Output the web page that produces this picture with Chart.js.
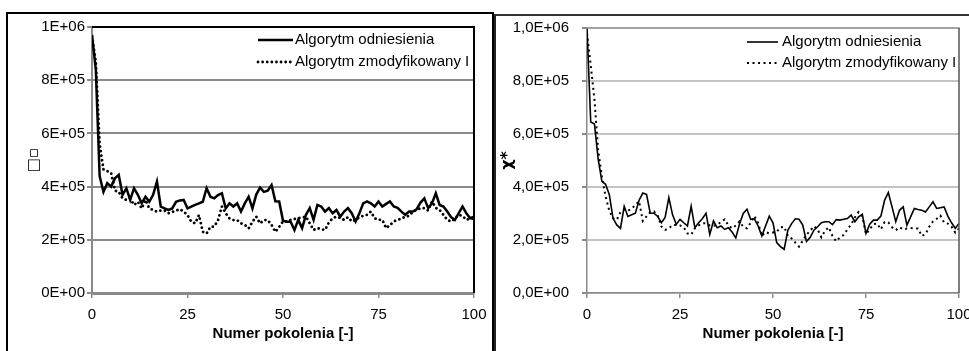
<!DOCTYPE html>
<html><head><meta charset="utf-8">
<script src="https://cdn.jsdelivr.net/npm/chart.js@4/dist/chart.umd.min.js"></script>
<style>
html,body{margin:0;padding:0;background:#fff}
body{width:969px;height:351px;overflow:hidden;position:relative}
#box1{position:absolute;left:6px;top:12px;width:488px;height:360px;border:2px solid #000;border-bottom:none;box-sizing:border-box}
#box2{position:absolute;left:494px;top:14px;width:490px;height:360px;border-left:2px solid #222;border-top:2px solid #333;box-sizing:border-box}
#c1{position:absolute;left:8px;top:14px}
#c2{position:absolute;left:496px;top:16px}
</style></head><body>
<div id="box1"></div><div id="box2"></div>
<canvas id="c1" width="483" height="337" style="width:483px;height:337px"></canvas>
<canvas id="c2" width="473" height="335" style="width:473px;height:335px"></canvas>
<script>
// categories: generation number 0..100
const generations = Array.from({length:101},(_,i)=>i);
const xTicks = [0,25,50,75,100];
const seriesNames = ['Algorytm odniesienia','Algorytm zmodyfikowany I'];
const xTitle = 'Numer pokolenia [-]';
const yTitleLeft = '\u25A1\u25AB';
const yTitleRight = '\u03C7*';

// values in thousands (x1000)
const leftReference = [
970,840,440,380,413,400,431,444,369,394,
350,394,369,337,362,343,369,419,325,318,
312,318,343,348,350,318,325,331,337,343,
394,362,356,368,375,318,337,325,337,306,
337,362,318,370,396,380,385,406,345,344,
272,268,268,237,275,244,294,319,275,331,
325,306,319,300,312,287,306,319,300,269,
300,337,344,337,325,344,325,335,344,325,
320,306,294,306,306,315,340,356,319,337,
375,331,325,306,285,275,300,325,300,281,
287];
const leftModified = [
965,870,560,465,458,452,385,380,356,350,
355,331,343,318,350,318,312,306,310,310,
300,305,310,315,306,293,268,262,293,230,
224,249,250,274,325,300,280,274,274,262,
256,243,268,287,262,274,274,256,230,249,
269,269,275,278,281,284,287,262,237,244,
240,237,265,281,287,282,275,285,269,275,
285,290,294,306,281,275,275,244,255,269,
275,280,287,290,306,312,319,319,310,344,
320,312,294,275,269,280,294,290,275,281,
278];
const rightReference = [
1000,645,638,505,421,410,371,282,257,244,
327,289,295,301,350,377,372,301,301,289,
265,285,360,295,259,278,265,253,327,246,
265,280,301,221,272,246,253,240,246,230,
208,260,300,316,278,280,253,215,253,290,
265,190,175,165,237,262,280,278,256,194,
210,237,250,265,269,269,258,277,275,278,
281,294,269,287,297,225,260,275,275,290,
350,379,325,269,312,325,256,287,319,315,
312,306,325,344,319,322,325,290,265,244,
262];
const rightModified = [
980,860,730,540,440,365,310,282,276,305,
315,310,318,332,346,272,289,305,308,292,
251,238,244,257,257,255,248,225,220,245,
255,263,263,255,254,257,268,278,255,244,
255,270,250,244,265,290,265,215,230,225,
228,231,248,250,215,206,190,175,198,220,
235,252,240,210,235,248,215,195,210,219,
240,258,285,305,290,222,240,260,262,240,
268,266,248,237,248,240,243,245,244,243,
215,222,250,270,280,292,265,262,250,228,
244];

const toPts = arr => generations.map((g,i)=>({x:g, y:arr[i]*1000}));

function sci(v, comma){
  if (v === 0) return comma ? '0,0E+00' : '0E+00';
  const e = Math.floor(Math.log10(v) + 1e-9);
  const m = v/Math.pow(10,e);
  const ms = comma ? m.toFixed(1).replace('.',',') : String(Math.round(m));
  return ms + 'E+' + String(e).padStart(2,'0');
}

const legendPlugin = {
  id:'cLegend',
  afterDraw(chart, args, o){
    const ctx = chart.ctx;
    ctx.save();
    ctx.font = o.font;
    ctx.textBaseline = 'middle';
    ctx.fillStyle = '#000';
    chart.data.datasets.forEach((ds,i)=>{
      const y = o.y + i*o.dy;
      ctx.beginPath();
      ctx.setLineDash(ds.borderDash||[]);
      ctx.lineCap = ds.borderCapStyle||'butt';
      ctx.lineWidth = ds.borderWidth;
      ctx.strokeStyle = ds.borderColor;
      ctx.moveTo(o.x, y); ctx.lineTo(o.x+o.w, y); ctx.stroke();
      ctx.setLineDash([]);
      ctx.fillText(ds.label, o.x+o.w+o.gap, y);
    });
    ctx.restore();
  }
};
const framePlugin = {
  id:'frame',
  afterDatasetsDraw(chart, args, o){
    const {ctx, chartArea:a} = chart;
    ctx.save();
    ctx.lineWidth = o.width;
    ctx.strokeStyle = o.topColor;
    ctx.beginPath(); ctx.moveTo(a.left, a.top); ctx.lineTo(a.right+o.width/2, a.top); ctx.stroke();
    ctx.strokeStyle = o.rightColor;
    ctx.beginPath(); ctx.moveTo(a.right, a.top); ctx.lineTo(a.right, a.bottom); ctx.stroke();
    ctx.restore();
  }
};
const noPad = s => { s.paddingTop = 0; s.paddingBottom = 0; s.paddingLeft = 0; s.paddingRight = 0; };

function build(id, cfg){
  return new Chart(document.getElementById(id), {
    type:'line',
    data:{datasets:[
      {label:seriesNames[0], data:toPts(cfg.ref), borderColor:'#000', borderWidth:cfg.solidW, pointRadius:0, tension:0, fill:false},
      {label:seriesNames[1], data:toPts(cfg.mod), borderColor:'#000', borderWidth:cfg.dotW, borderDash:cfg.dash, borderCapStyle:cfg.cap, pointRadius:0, tension:0, fill:false}
    ]},
    options:{
      responsive:false, animation:false, devicePixelRatio:1,
      layout:{padding:cfg.padding},
      plugins:{legend:{display:false}, tooltip:{enabled:false},
        cLegend:cfg.legend, frame:cfg.frame},
      scales:{
        x:{type:'linear', min:0, max:100,
          afterBuildTicks: s => { s.ticks = xTicks.map(v=>({value:v})); },
          afterFit: s => { s.height = 50; noPad(s); },
          border:{color:cfg.axisColor, width:cfg.xAxisW},
          grid:{drawOnChartArea:false, tickLength:5, color:cfg.axisColor, lineWidth:1.5},
          ticks:{padding:8, color:'#000', font:{family:'Liberation Sans, Arial', size:15}, maxRotation:0},
          title:{display:true, text:xTitle, color:'#000', padding:{top:0,bottom:0}, font:{family:'Liberation Sans, Arial', size:15, weight:'bold'}}
        },
        y:{min:0, max:1000000,
          ticks:{stepSize:200000, padding:cfg.yTickPad, color:'#000', font:{family:'Liberation Sans, Arial', size:cfg.yTickSize}, callback:v=>sci(v, cfg.comma)},
          afterFit: s => { s.width = cfg.yWidth; noPad(s); },
          border:{color:cfg.axisColor, width:cfg.yAxisW},
          grid:{color:cfg.gridColor, lineWidth:cfg.gridW, tickLength:5, tickColor:cfg.axisColor},
          title:{display:true, text:cfg.yTitle, color:'#000', padding:{top:cfg.yTitlePad,bottom:0}, font:{family:cfg.yTitleFamily, size:cfg.yTitleSize, weight:'bold'}}
        }
      }
    },
    plugins:[legendPlugin, framePlugin]
  });
}

build('c1', {
  ref:leftReference, mod:leftModified, solidW:2.5, dotW:2.8, dash:[0.01,4.6], cap:'round',
  padding:{left:0, top:13, right:17, bottom:8}, yWidth:84, yTickPad:2, yTickSize:15, comma:false,
  axisColor:'#8a8a8a', xAxisW:3, yAxisW:2, gridColor:'#8a8a8a', gridW:2,
  yTitle:yTitleLeft, yTitlePad:17, yTitleSize:15, yTitleFamily:'DejaVu Sans',
  legend:{x:250, y:26, dy:22, w:35, gap:2, font:'15px "Liberation Sans", Arial'},
  frame:{width:2, topColor:'#000', rightColor:'#000'}
});
build('c2', {
  ref:rightReference, mod:rightModified, solidW:1.6, dotW:2, dash:[2,3.5], cap:'butt',
  padding:{left:0, top:12, right:10, bottom:8}, yWidth:91, yTickPad:13, yTickSize:15, comma:true,
  axisColor:'#8a8a8a', xAxisW:1.5, yAxisW:1.5, gridColor:'#c4c4c4', gridW:2,
  yTitle:yTitleRight, yTitlePad:2, yTitleSize:16, yTitleFamily:'DejaVu Sans',
  legend:{x:251, y:26, dy:21, w:31, gap:4, font:'15px "Liberation Sans", Arial'},
  frame:{width:1.5, topColor:'#999', rightColor:'#555'}
});
</script>
</body></html>
